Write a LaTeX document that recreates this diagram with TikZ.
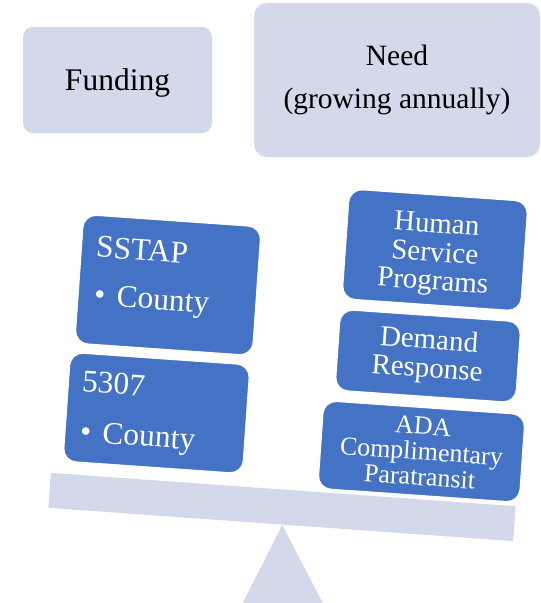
\documentclass[tikz,border=0pt]{standalone}
\usepackage{fontspec}
\setmainfont{Liberation Serif}
\definecolor{lightlav}{RGB}{211,216,234}
\definecolor{officeblue}{RGB}{68,114,196}

\begin{document}
\begin{tikzpicture}[x=1pt,y=-1pt,
    lightbox/.style={fill=lightlav,rounded corners=10pt,inner sep=0pt,align=center},
    bluebox/.style={fill=officeblue,draw=white,line width=1.2pt,rounded corners=13pt,inner sep=0pt},
    boxtext/.style={text=white,inner sep=0pt,align=center}]
  \useasboundingbox (0,0) rectangle (541,603);

  % seesaw
  \fill[lightlav] (282.3,525) -- (322.7,603) -- (242.7,603) -- cycle;
  \node[fill=lightlav,minimum width=466pt,minimum height=35pt,inner sep=0pt,rotate=-4.1] (beam) at (282,507) {};

  % headings
  \node[lightbox,minimum width=189pt,minimum height=106pt,text depth=1pt,
        font=\fontsize{31.5}{36}\selectfont] (funding) at (117.5,80) {Funding};
  \node[lightbox,minimum width=286pt,minimum height=154pt,rounded corners=13pt,
        font=\fontsize{29.5}{43.3}\selectfont] (need) at (397,80) {Need\\(growing annually)};

  % funding side
  \begin{scope}[shift={(168,285)},rotate=-4,transform shape]
    \node[bluebox,minimum width=178pt,minimum height=129pt] (sstap) at (0,0) {};
    \node[boxtext,anchor=base west,font=\fontsize{31.5}{36}\selectfont] (sstapname) at (-74.4,-23) {SSTAP};
    \node[boxtext,anchor=base west,font=\fontsize{31.5}{36}\selectfont] (sstapcounty) at (-73,25) {\textbullet\hspace{11.5pt}County};
  \end{scope}
  \begin{scope}[shift={(156.5,413)},rotate=-4,transform shape]
    \node[bluebox,minimum width=180pt,minimum height=109pt] (fivethree) at (0,0) {};
    \node[boxtext,anchor=base west,font=\fontsize{31.5}{36}\selectfont] (fivethreename) at (-76.5,-16) {5307};
    \node[boxtext,anchor=base west,font=\fontsize{31.5}{36}\selectfont] (fivethreecounty) at (-75,34) {\textbullet\hspace{11.5pt}County};
  \end{scope}

  % need side
  \begin{scope}[shift={(435,250)},rotate=-4,transform shape]
    \node[bluebox,minimum width=179pt,minimum height=110pt] (human) at (0,0) {};
    \node[boxtext,font=\fontsize{29}{28.5}\selectfont] (humantext) at (0,5) {Human\\Service\\Programs};
  \end{scope}
  \begin{scope}[shift={(428,356)},rotate=-4,transform shape]
    \node[bluebox,minimum width=181pt,minimum height=81pt] (demand) at (0,0) {};
    \node[boxtext,font=\fontsize{29}{28.5}\selectfont] (demandtext) at (0,0) {Demand\\Response};
  \end{scope}
  \begin{scope}[shift={(421.5,451.5)},rotate=-4,transform shape]
    \node[bluebox,minimum width=202pt,minimum height=88pt] (ada) at (0,0) {};
    \node[boxtext,font=\fontsize{26}{25.5}\selectfont] (adatext) at (0,0) {ADA\\Complimentary\\Paratransit};
  \end{scope}
\end{tikzpicture}
\end{document}
